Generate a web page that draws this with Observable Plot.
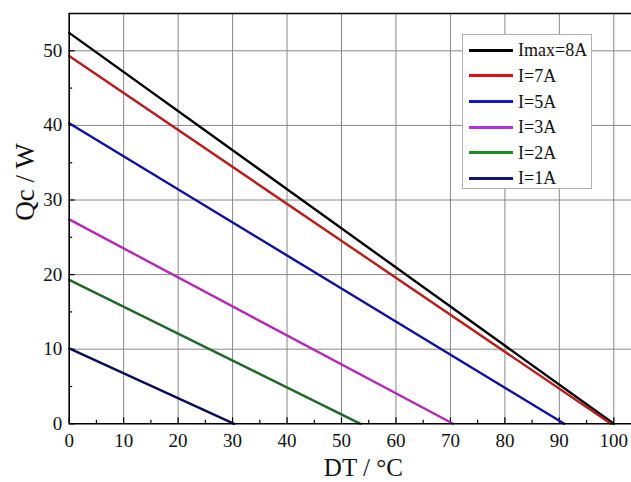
<!DOCTYPE html>
<html>
<head>
<meta charset="utf-8">
<script src="https://cdn.jsdelivr.net/npm/d3@7"></script>
<script src="https://cdn.jsdelivr.net/npm/@observablehq/plot@0.6"></script>
<style>
  html, body { margin: 0; padding: 0; background: #fff; }
  #wrap { position: relative; width: 631px; height: 482px; overflow: hidden; font-family: 'Liberation Serif', 'DejaVu Serif', serif; }
  #chart svg, #chart svg text { font-family: 'Liberation Serif', 'DejaVu Serif', serif !important; }
  #legend { position: absolute; left: 462px; top: 34px; width: 130px; height: 155px; border: 1px solid #b0b0b0; background: #fff; box-sizing: border-box; }
  .row { position: absolute; left: 0; height: 20px; display: flex; align-items: center; }
  .sw { width: 44px; height: 3px; margin-left: 6px; margin-right: 5px; }
  .lab { font-size: 18px; color: #111; line-height: 20px; font-family: 'Liberation Serif', 'DejaVu Serif', serif; }
</style>
</head>
<body>
<div id="wrap">
  <div id="chart"></div>
  <div id="legend"></div>
</div>
<script>
// Series: label, cooling power at DT=0 (W), DT where Qc reaches 0 (°C)
const seriesNames = ["Imax=8A", "I=7A", "I=5A", "I=3A", "I=2A", "I=1A"];
const qcAtZero = [52.4, 49.3, 40.3, 27.4, 19.3, 10.1];
const dtAtZeroQc = [100, 99.5, 90.9, 70.5, 53.5, 30.3];
const lineColors = ["#000000", "#b81c1c", "#10109e", "#b428b4", "#22662a", "#0c0c55"];
const legendColors = ["#000000", "#e01010", "#1515d0", "#b030e0", "#208a2a", "#151575"];
const xTicks = [0, 10, 20, 30, 40, 50, 60, 70, 80, 90, 100];
const yTicks = [0, 10, 20, 30, 40, 50];
const xMinor = [5, 15, 25, 35, 45, 55, 65, 75, 85, 95];
const yMinor = [5, 15, 25, 35, 45];
const xDomain = [0, 103.25];
const yDomain = [0, 55];

const data = [];
seriesNames.forEach((name, i) => {
  data.push({series: name, dt: 0, qc: qcAtZero[i]});
  data.push({series: name, dt: dtAtZeroQc[i], qc: 0});
});

const font = "'Liberation Serif', 'DejaVu Serif', serif";
const chart = Plot.plot({
  width: 631,
  height: 482,
  marginLeft: 68.7,
  marginRight: 0,
  marginTop: 13,
  marginBottom: 58.7,
  style: {fontFamily: font, fontSize: "19px", color: "#111", background: "#fff"},
  x: {domain: xDomain},
  y: {domain: yDomain},
  color: {domain: seriesNames, range: lineColors},
  marks: [
    Plot.gridX(xTicks.slice(1), {stroke: "#888", strokeOpacity: 1, strokeWidth: 1}),
    Plot.gridY(yTicks.slice(1), {stroke: "#888", strokeOpacity: 1, strokeWidth: 1}),
    // tick labels
    Plot.axisX(xTicks, {tickSize: 0, tickPadding: 10, label: null, fontSize: 19, fontFamily: font}),
    Plot.axisY(yTicks, {tickSize: 0, tickPadding: 7, label: null, fontSize: 19, fontFamily: font}),
    // inward major ticks
    Plot.axisX(xTicks, {tickSize: 6, dy: -6, tickFormat: () => "", label: null, stroke: "#000", strokeWidth: 1.2}),
    Plot.axisY(yTicks, {tickSize: 6, dx: 6, tickFormat: () => "", label: null, stroke: "#000", strokeWidth: 1.2}),
    // inward minor ticks
    Plot.axisX(xMinor, {tickSize: 3.5, dy: -3.5, tickFormat: () => "", label: null, stroke: "#000", strokeWidth: 1.2}),
    Plot.axisY(yMinor, {tickSize: 3.5, dx: 3.5, tickFormat: () => "", label: null, stroke: "#000", strokeWidth: 1.2}),
    Plot.line(data, {x: "dt", y: "qc", z: "series", stroke: "series", strokeWidth: 2.4}),
    Plot.ruleX([xDomain[0]], {stroke: "#000", strokeWidth: 1.6}),
    Plot.ruleY([yDomain[0]], {stroke: "#000", strokeWidth: 1.6}),
    Plot.ruleY([yDomain[1]], {stroke: "#000", strokeWidth: 1.6}),
    Plot.text(["DT / °C"], {frameAnchor: "bottom", dy: 52, dx: 13, fontSize: 25, fill: "#111", fontFamily: font}),
    Plot.text(["Qc / W"], {frameAnchor: "left", dx: -44, dy: 2, rotate: -90, fontSize: 27, fill: "#111", fontFamily: font})
  ]
});
document.getElementById("chart").appendChild(chart);

const legend = document.getElementById("legend");
seriesNames.forEach((name, i) => {
  const row = document.createElement("div");
  row.className = "row";
  row.style.top = (5.3 + i * 25.6) + "px";
  const sw = document.createElement("div");
  sw.className = "sw";
  sw.style.background = legendColors[i];
  const lab = document.createElement("span");
  lab.className = "lab";
  lab.textContent = name;
  row.appendChild(sw);
  row.appendChild(lab);
  legend.appendChild(row);
});
</script>
</body>
</html>
